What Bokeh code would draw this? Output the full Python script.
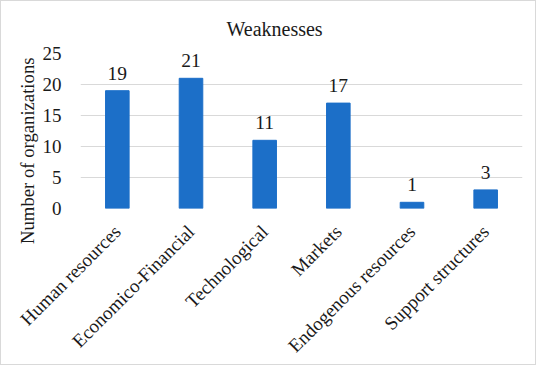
import math
from bokeh.plotting import figure
from bokeh.models import ColumnDataSource, FixedTicker, LabelSet, FactorRange, Title
from bokeh.embed import file_html
from bokeh.resources import INLINE

categories = ["Human resources", "Economico-Financial", "Technological", "Markets",
              "Endogenous resources", "Support structures"]
counts = [19, 21, 11, 17, 1, 3]
y_ticks = [0, 5, 10, 15, 20, 25]
title_text = "Weaknesses"
y_label = "Number of organizations"

FONT = "Liberation Serif"
TXT = "#1a1a1a"

src = ColumnDataSource(dict(cat=categories, val=counts, lab=[str(v) for v in counts]))

p = figure(x_range=FactorRange(*categories), y_range=(0, 25), width=536, height=365,
           output_backend="svg", toolbar_location=None, title=title_text,
           min_border_left=79, min_border_right=15, min_border_top=52, min_border_bottom=154,
           styles={"border": "1px solid #d9d9d9"})
p.outline_line_color = None
p.title.align = "left"
p.title.offset = 146
p.title.standoff = 27
p.title.text_font = FONT
p.title.text_font_size = "20px"
p.title.text_font_style = "normal"
p.title.text_color = TXT

p.vbar(x="cat", top="val", width=0.32, source=src, color="#1c6fc8")

labels = LabelSet(x="cat", y="val", text="lab", source=src, text_align="center",
                  text_baseline="alphabetic", y_offset=11, text_font=FONT,
                  text_font_size="19.5px", text_color=TXT)
p.add_layout(labels)

p.yaxis.ticker = FixedTicker(ticks=y_ticks)
for ax in (p.xaxis, p.yaxis):
    ax.axis_line_color = None
    ax.major_tick_line_color = None
    ax.minor_tick_line_color = None
    ax.major_label_text_font = FONT
    ax.major_label_text_font_size = "19px"
    ax.major_label_text_color = TXT
p.yaxis.major_label_standoff = 13
p.xaxis.major_label_standoff = 14
p.xaxis.major_label_orientation = math.pi / 4
p.xgrid.grid_line_color = None
p.ygrid.grid_line_color = "#d9d9d9"
p.ygrid.grid_line_width = 1

ytitle = Title(text=y_label, align="right", offset=4, standoff=3, text_font=FONT,
               text_font_size="18.7px", text_font_style="normal", text_color=TXT)
p.add_layout(ytitle, "left")

open("out.html", "w").write(file_html(p, INLINE))
